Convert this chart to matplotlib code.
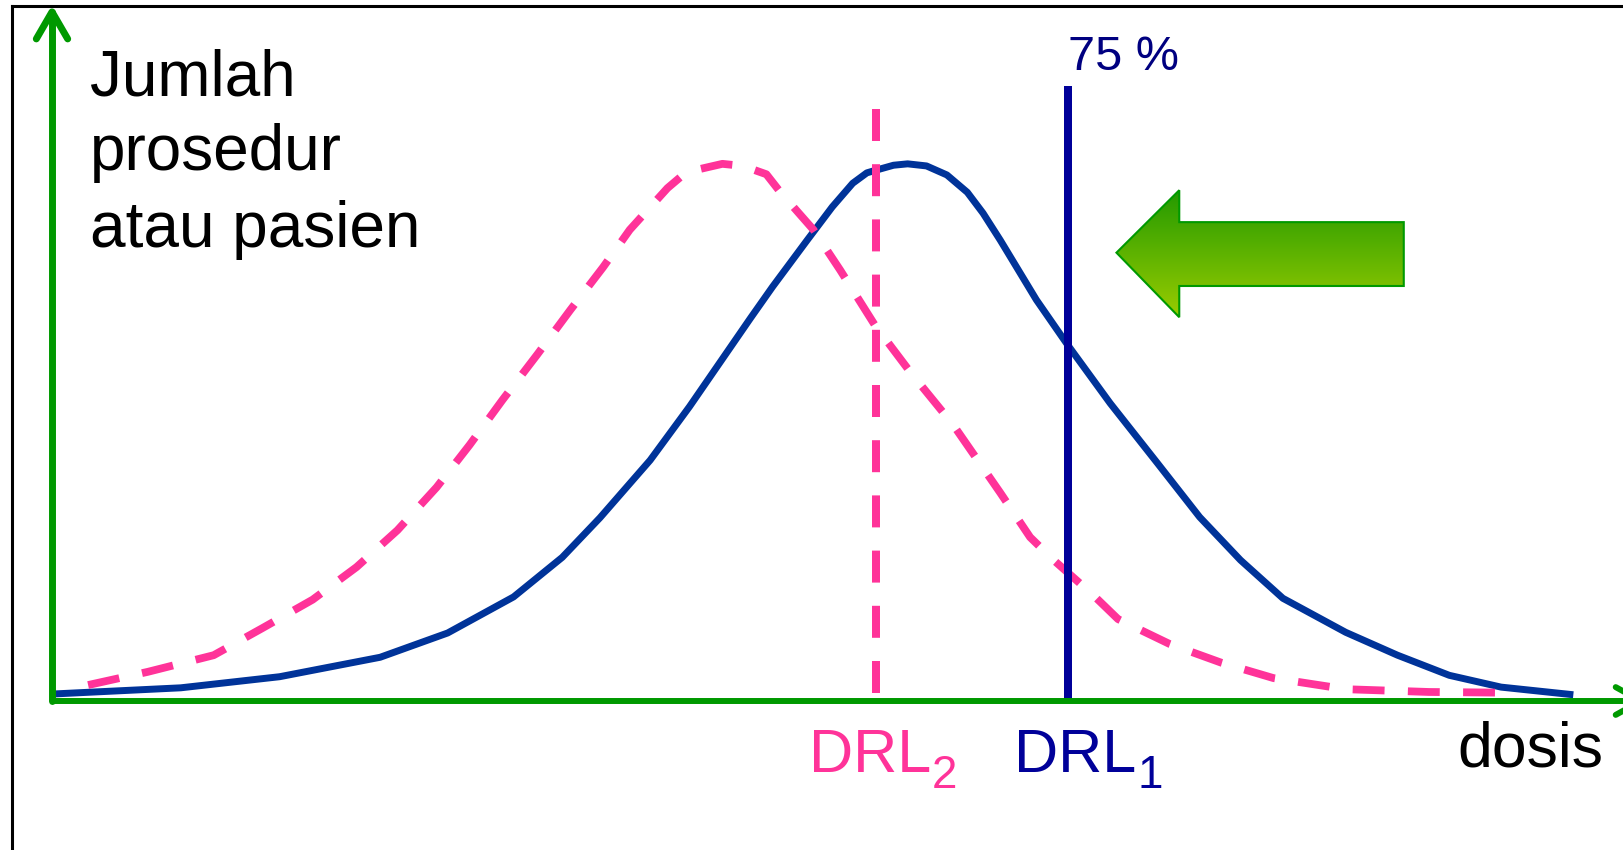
import numpy as np
import matplotlib
matplotlib.use("Agg")
import matplotlib.pyplot as plt
from matplotlib.patches import Polygon
from matplotlib.lines import Line2D

# Values. x = dose (0-100), y = number of procedures (0-100)
survey1_dose = [0.0, 1.8, 8.2, 14.5, 20.9, 25.2, 29.4, 32.5, 34.9, 38.1, 40.6,
                44.5, 45.9, 48.1, 49.7, 51.0, 51.9, 52.5, 53.6, 54.5, 55.7, 57.0,
                58.3, 59.3, 60.4, 62.7, 64.6, 67.4, 70.4, 73.1, 75.7, 78.4, 82.4,
                85.7, 89.0, 92.3, 96.9]
survey1_count = [1.0, 1.2, 1.9, 3.5, 6.3, 9.8, 15.0, 20.7, 26.4, 34.7, 42.4,
                 55.2, 59.7, 66.4, 71.2, 74.6, 76.1, 76.5, 77.2, 77.4, 77.1, 75.8,
                 73.3, 70.3, 66.4, 57.8, 51.6, 42.9, 34.3, 26.5, 20.3, 14.8, 9.9,
                 6.6, 3.7, 2.0, 0.9]

survey2_dose = [2.3, 6.1, 10.3, 13.4, 16.6, 19.4, 22.0, 24.5, 26.6, 28.7, 30.9,
                33.0, 35.1, 36.8, 39.2, 40.4, 42.7, 44.0, 45.5, 46.4, 48.5, 50.2,
                52.4, 54.7, 57.4, 60.4, 62.3, 63.8, 66.3, 67.9, 71.2, 74.5, 77.8,
                82.4, 87.7, 92.5]
survey2_count = [2.3, 4.2, 6.6, 10.5, 14.6, 19.3, 24.6, 30.8, 36.9, 43.4, 49.9,
                 56.3, 62.5, 67.9, 73.9, 76.2, 77.4, 77.1, 75.9, 73.3, 67.9, 62.1,
                 54.2, 47.3, 39.8, 30.0, 23.6, 20.3, 15.3, 11.8, 8.2, 5.5, 3.3,
                 1.7, 1.3, 1.2]

# reference levels (75th percentile of each survey)
drl1_dose, drl1_top = 64.7, 88.6
drl2_dose, drl2_top = 52.5, 85.3

# big "move left" arrow outline
arrow_x = [67.8, 71.8, 71.8, 86.1, 86.1, 71.8, 71.8]
arrow_y = [64.6, 73.6, 69.0, 69.0, 59.8, 59.8, 55.3]

ylabel_lines = ["Jumlah", "prosedur", "atau pasien"]
ylabel_counts = [87.3, 76.5, 65.4]

GREEN = "#009900"
BLUE = "#003399"
NAVY = "#000099"
PINK = "#FF3399"
FONT = "Liberation Sans"

W, H = 1624, 850
fig = plt.figure(figsize=(W / 100, H / 100), dpi=100)
ax = fig.add_axes([52 / W, (H - 701) / H, 1570 / W, 694 / H])

# outer frame (left and top edge only)
fig.add_artist(Line2D([12 / W, 12 / W], [0, 1 - 6 / H], color="black", lw=2.2))
fig.add_artist(Line2D([12 / W, 1], [1 - 6 / H, 1 - 6 / H], color="black", lw=2.2))

# distributions
ax.plot(survey1_dose, survey1_count, color=BLUE, lw=5.0, solid_capstyle="butt",
        solid_joinstyle="round", zorder=2)
ax.plot(survey2_dose, survey2_count, color=PINK, lw=5.6, dashes=(4.1, 3.0),
        dash_capstyle="butt", dash_joinstyle="round", zorder=2)

# DRL markers
ax.plot([drl2_dose, drl2_dose], [drl2_top, 0], color=PINK, lw=5.76,
        dashes=(4.0, 2.9), dash_capstyle="butt", zorder=2)
ax.plot([drl1_dose, drl1_dose], [drl1_top, 0], color=NAVY, lw=5.76,
        solid_capstyle="butt", zorder=2)

# gradient arrow
pts = np.column_stack([arrow_x, arrow_y])
poly = Polygon(pts, closed=True, facecolor="none", edgecolor=GREEN, lw=1.5, zorder=4)
ax.add_patch(poly)
c_top = np.array([0x22, 0x99, 0x00]) / 255
c_bot = np.array([0x99, 0xcc, 0x00]) / 255
grad = np.linspace(0, 1, 256)[:, None, None]
img = c_bot + (c_top - c_bot) * grad
im = ax.imshow(img, extent=[min(arrow_x), max(arrow_x), min(arrow_y), max(arrow_y)],
               origin="lower", aspect="auto", zorder=3, interpolation="bilinear")
im.set_clip_path(poly)

# green axes with open arrow heads
ax.plot([0, 0], [0, 99.3], color=GREEN, lw=5.0, solid_capstyle="round", zorder=5, clip_on=False)
ax.plot([-1.0, 0, 1.0], [95.4, 99.3, 95.4], color=GREEN, lw=5.0,
        solid_capstyle="round", solid_joinstyle="round", zorder=5, clip_on=False)
ax.plot([0, 101.2], [0, 0], color=GREEN, lw=4.3, solid_capstyle="butt", zorder=5, clip_on=False)
ax.plot([99.6, 101.2, 99.6], [2.0, 0, -2.0], color=GREEN, lw=4.3,
        solid_capstyle="round", solid_joinstyle="round", zorder=5, clip_on=False)

ax.set_xlim(0, 100)
ax.set_ylim(0, 100)
ax.axis("off")

# texts
for line, y in zip(ylabel_lines, ylabel_counts):
    ax.text(2.4, y, line, fontsize=46, family=FONT, color="black",
            ha="left", va="baseline")

ax.text(drl1_dose, 90.9, "75 %", fontsize=35, family=FONT, color="#000080",
        ha="left", va="baseline")
ax.text(89.5, -9.5, "dosis", fontsize=45, family=FONT, color="black",
        ha="left", va="baseline")

for x, name, sub, col in [(48.2, "DRL", "2", PINK), (61.3, "DRL", "1", NAVY)]:
    t = ax.text(x, -10.2, name, fontsize=44, family=FONT, color=col,
                ha="left", va="baseline")
    ax.annotate(sub, xy=(1, 0), xycoords=t, xytext=(0.5, -2), textcoords="offset points",
                fontsize=33, family=FONT, color=col, ha="left", va="baseline")

fig.savefig("out.png", dpi=100)
